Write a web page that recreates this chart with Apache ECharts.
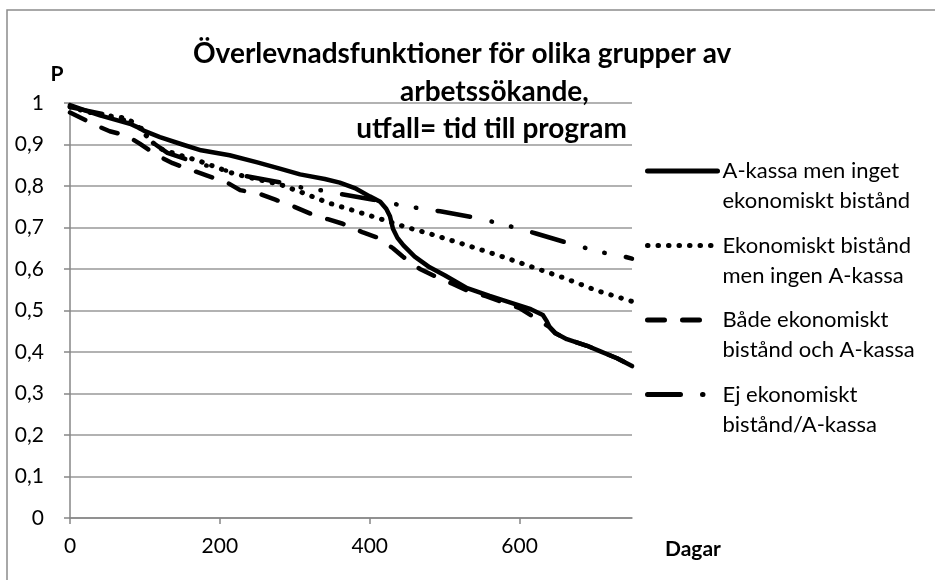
<!DOCTYPE html>
<html><head><meta charset="utf-8">
<script src="https://cdn.jsdelivr.net/npm/echarts@6/dist/echarts.min.js"></script>
<style>html,body{margin:0;padding:0;background:#fff}#c{width:935px;height:580px}</style>
</head><body><div id="c"></div>
<script>
const titleLines = ['Överlevnadsfunktioner för olika grupper av', 'arbetssökande,', 'utfall= tid till program'];
const xAxisName = 'Dagar';
const yAxisName = 'P';
const seriesNames = ['A-kassa men inget\nekonomiskt bistånd', 'Ekonomiskt bistånd\nmen ingen A-kassa', 'Både ekonomiskt\nbistånd och A-kassa', 'Ej ekonomiskt\nbistånd/A-kassa'];

const s1Days = [0,20,40,60,80,90,100,120,150,175,213,250,280,307,340,360,380,400,414,422,427,431,437,445,460,480,500,530,560,590,615,631,636,640,648,663,690,707,730,750];
const s1P = [0.995,0.982,0.97,0.96,0.95,0.942,0.932,0.918,0.9,0.886,0.874,0.857,0.842,0.828,0.817,0.808,0.795,0.775,0.762,0.745,0.727,0.697,0.675,0.657,0.63,0.604,0.585,0.554,0.535,0.518,0.503,0.489,0.475,0.46,0.445,0.431,0.415,0.402,0.385,0.366];

const s2Days = [0,20,40,69,80,89,100,109,120,147,173,218,250,280,310,347,380,410,450,480,530,580,618,660,703,750];
const s2P = [0.991,0.98,0.972,0.965,0.958,0.948,0.925,0.907,0.89,0.874,0.86,0.83,0.816,0.804,0.784,0.758,0.74,0.723,0.70,0.685,0.657,0.628,0.604,0.578,0.548,0.522];

const s3Days = [0,36,53,76,93,116,137,164,183,209,227,253,274,298,320,344,364,391,410,431,444,467,490,511,530,556,574,600,618,640,648,663,690,707,730,750];
const s3P = [0.977,0.945,0.932,0.921,0.902,0.874,0.855,0.837,0.825,0.809,0.79,0.781,0.767,0.751,0.734,0.72,0.709,0.688,0.676,0.65,0.63,0.6,0.58,0.564,0.548,0.534,0.522,0.506,0.485,0.46,0.445,0.431,0.415,0.402,0.385,0.366];

const s4Days = [0,40,80,95,110,130,170,213,231,280,307,334,360,405,438,467,494,543,570,596,623,660,707,735,750];
const s4P = [0.99,0.975,0.955,0.94,0.905,0.88,0.855,0.835,0.825,0.809,0.797,0.79,0.781,0.767,0.755,0.746,0.739,0.723,0.711,0.699,0.685,0.665,0.641,0.632,0.625];

const pair = (xs, ys) => xs.map((x, i) => [x, ys[i]]);
const FONT = 'Lato';
const lineStyles = [
  {color: '#000', width: 4.5, type: 'solid', cap: 'round', join: 'round'},
  {color: '#000', width: 5, type: [0.5, 10], cap: 'round', join: 'round'},
  {color: '#000', width: 4.5, type: [17, 18], cap: 'round', join: 'round'},
  {color: '#000', width: 4.5, type: [33, 22, 0.5, 19.5, 0.5, 21.5], cap: 'round', join: 'round'}
];
const datasets = [pair(s1Days, s1P), pair(s2Days, s2P), pair(s3Days, s3P), pair(s4Days, s4P)];
const titleStyle = {fontFamily: FONT, fontWeight: 'bold', fontSize: 28, lineHeight: 38, color: '#000'};

const chart = echarts.init(document.getElementById('c'), null, {renderer: 'canvas'});
chart.setOption({
  backgroundColor: '#fff',
  animation: false,
  title: [
    {text: titleLines[0], left: 193, top: 35, padding: 0, textStyle: titleStyle},
    {text: titleLines[1], left: 400, top: 73, padding: 0, textStyle: titleStyle},
    {text: titleLines[2], right: 308, top: 110, padding: 0, textStyle: titleStyle}
  ],
  graphic: [
    {type: 'rect', shape: {x: 7, y: 10, width: 1000, height: 1000}, style: {fill: 'none', stroke: '#8c8c8c', lineWidth: 1.5}, silent: true, z: -10}
  ],
  legend: {
    orient: 'vertical', left: 645, top: 126, padding: 0,
    itemWidth: 70, itemHeight: 14, itemGap: -15.5,
    data: seriesNames,
    formatter: name => ' \n' + name,
    itemStyle: {color: 'rgba(0,0,0,0)', borderColor: 'rgba(0,0,0,0)', borderWidth: 0},
    lineStyle: {width: 5, cap: 'round'},
    textStyle: {fontFamily: FONT, fontSize: 22, lineHeight: 30, color: '#000'}
  },
  grid: {left: 70, top: 103, width: 562, height: 429, containLabel: false},
  xAxis: {
    type: 'value', min: 0, max: 750, interval: 200,
    name: ' \n' + xAxisName, nameLocation: 'end', nameGap: 33,
    nameTextStyle: {fontFamily: FONT, fontWeight: 'bold', fontSize: 21, lineHeight: 62, color: '#000'},
    axisLine: {show: true, lineStyle: {color: '#868686', width: 1.5}},
    axisTick: {show: true, length: 6, lineStyle: {color: '#868686', width: 1.5}},
    axisLabel: {fontFamily: FONT, fontSize: 21, color: '#000', margin: 18, showMaxLabel: false},
    splitLine: {show: false}
  },
  yAxis: {
    type: 'value', min: 0, max: 1, interval: 0.1,
    name: yAxisName, nameLocation: 'end', nameGap: 18,
    nameTextStyle: {fontFamily: FONT, fontWeight: 'bold', fontSize: 21, color: '#000', align: 'center', padding: [0, 0, 0, -26]},
    axisLine: {show: true, lineStyle: {color: '#868686', width: 1.5}},
    axisTick: {show: true, length: 6, lineStyle: {color: '#868686', width: 1.5}},
    axisLabel: {fontFamily: FONT, fontSize: 21, color: '#000', margin: 26, formatter: v => String(Math.round(v * 10) / 10).replace('.', ',')},
    splitLine: {show: true, lineStyle: {color: '#999999', width: 1.5}}
  },
  series: seriesNames.map((n, i) => ({
    name: n, type: 'line', data: datasets[i], symbol: 'none', showSymbol: false,
    lineStyle: lineStyles[i], itemStyle: {color: '#000'}
  }))
});
</script></body></html>
